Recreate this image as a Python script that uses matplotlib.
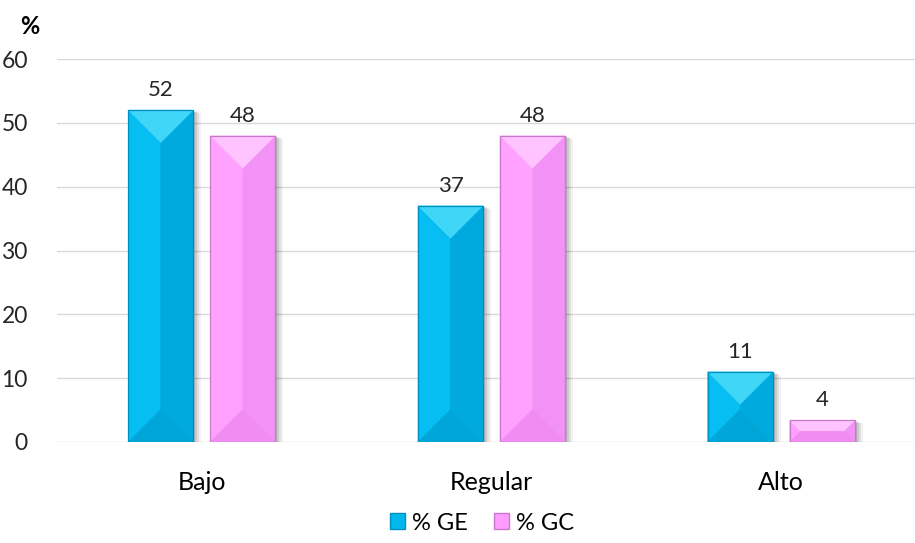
import matplotlib
matplotlib.use("Agg")
import matplotlib.pyplot as plt
from matplotlib.patches import Polygon, Rectangle
import numpy as np

categories = ["Bajo", "Regular", "Alto"]
series_names = ["% GE", "% GC"]
ge_values = [52, 37, 11]
gc_values = [48, 48, 3.4]
ge_labels = ["52", "37", "11"]
gc_labels = ["48", "48", "4"]

plt.rcParams['font.family'] = ['Lato', 'DejaVu Sans']

W, H = 915, 543
fig = plt.figure(figsize=(W / 100, H / 100), dpi=100)
ax_l, ax_r, ax_b, ax_t = 57, 926, 442, 59
ax = fig.add_axes([ax_l / W, 1 - ax_b / H, (ax_r - ax_l) / W, (ax_b - ax_t) / H])

ymax = 60
xlo, xhi = -0.5, 2.5
ax.set_xlim(xlo, xhi)
ax.set_ylim(0, ymax)
xpp = (xhi - xlo) / (ax_r - ax_l)
ypp = ymax / (ax_b - ax_t)

bar_w = 65 * xpp
offset = 41 * xpp

styles = {
    "% GE": dict(face="#00B8EC", top="#40D6F8", bottom="#00A6D8", left="#06BEF2", right="#00AADF", edge="#0090C0"),
    "% GC": dict(face="#FF9CFF", top="#FFC4FF", bottom="#F08CF2", left="#FFA2FF", right="#F292F6", edge="#C878C8"),
}


def bevel_bar(x, h, st):
    x0 = x - bar_w / 2
    x1 = x + bar_w / 2
    # soft shadow on right
    for k, a in [(8, 0.05), (6, 0.07), (4, 0.10), (2, 0.12)]:
        ax.add_patch(Rectangle((x0 + k * xpp, 0), bar_w, max(h - k * ypp * 0.4, 0),
                               color="#000000", alpha=a, lw=0, zorder=2))
    ax.bar(x, h, width=bar_w, color=st["face"], linewidth=0, zorder=3)
    hp = h / ypp
    d = min(bar_w / xpp / 2, hp / 2)
    dx = d * xpp
    dy = d * ypp
    top = [(x0, h), (x1, h), (x1 - dx, h - dy), (x0 + dx, h - dy)]
    bot = [(x0, 0), (x1, 0), (x1 - dx, dy), (x0 + dx, dy)]
    left = [(x0, 0), (x0, h), (x0 + dx, h - dy), (x0 + dx, dy)]
    right = [(x1, 0), (x1, h), (x1 - dx, h - dy), (x1 - dx, dy)]
    for poly, c in [(left, st["left"]), (right, st["right"]), (top, st["top"]), (bot, st["bottom"])]:
        ax.add_patch(Polygon(poly, closed=True, facecolor=c, edgecolor=c, lw=0.3, zorder=4))
    ax.add_patch(Rectangle((x0, 0), bar_w, h, fill=False, edgecolor=st["edge"], lw=0.9, zorder=5))


xs = np.arange(len(categories))
for i in xs:
    bevel_bar(i - offset, ge_values[i], styles["% GE"])
    bevel_bar(i + offset, gc_values[i], styles["% GC"])
    ax.text(i - offset, ge_values[i] + 10 * ypp, ge_labels[i], ha="center", va="bottom",
            fontsize=16, color="#262626", zorder=6)
    ax.text(i + offset, gc_values[i] + 10 * ypp, gc_labels[i], ha="center", va="bottom",
            fontsize=16, color="#262626", zorder=6)

ax.set_yticks(np.arange(0, 61, 10))
ax.set_xticks(xs)
ax.set_xticklabels(categories, fontsize=18, color="#000000")
ax.tick_params(axis="y", length=0, pad=21, labelsize=16.5, labelcolor="#262626")
ax.tick_params(axis="x", length=0, pad=21)
ax.grid(axis="y", color="#D9D9D9", linewidth=1)
ax.set_axisbelow(True)
for s in ax.spines.values():
    s.set_visible(False)

fig.text(30 / W, 1 - 26 / H, "%", fontsize=17, fontweight="bold", ha="center", va="center")

# legend
handles = [Rectangle((0, 0), 1, 1, facecolor=styles[n]["face"], edgecolor=styles[n]["edge"]) for n in series_names]
fig.legend(handles, series_names, loc="center", bbox_to_anchor=(482 / W, 1 - 523 / H), ncol=2,
           frameon=False, fontsize=17, handlelength=0.65, handleheight=0.65, handletextpad=0.3,
           columnspacing=1.1)

fig.savefig("out.png", dpi=100)
